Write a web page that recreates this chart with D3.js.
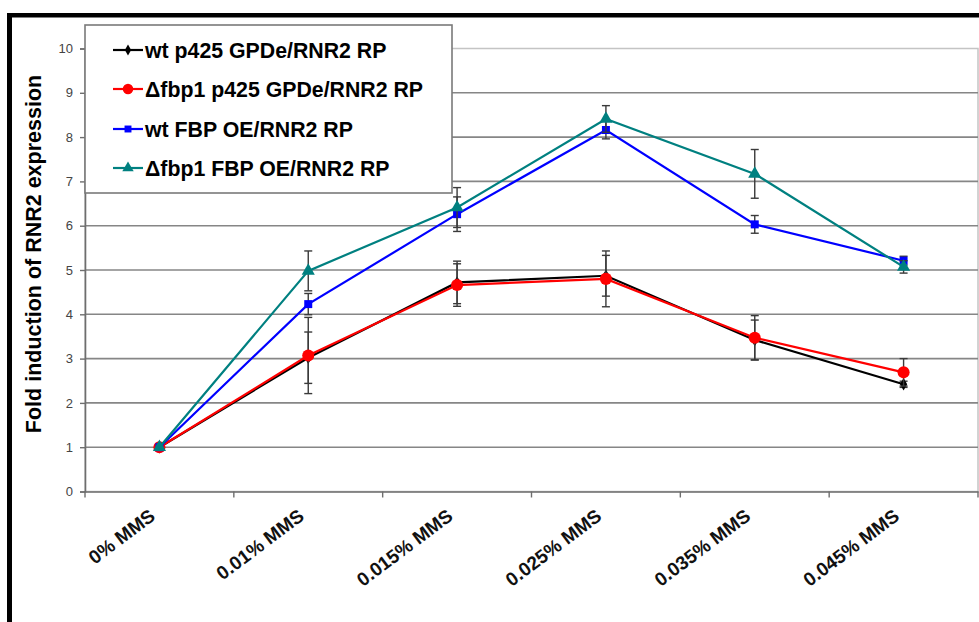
<!DOCTYPE html>
<html>
<head>
<meta charset="utf-8">
<script src="https://cdn.jsdelivr.net/npm/d3@7"></script>
<style>
  html, body { margin: 0; padding: 0; background: #fff; }
  svg { display: block; font-family: "Liberation Sans", Arial, sans-serif; }
</style>
</head>
<body>
<svg id="chart" width="979" height="622"></svg>
<script>
// MMS dose categories
const categories = ["0% MMS", "0.01% MMS", "0.015% MMS", "0.025% MMS", "0.035% MMS", "0.045% MMS"];
const yTicks = [0, 1, 2, 3, 4, 5, 6, 7, 8, 9, 10];

// Fold induction per strain, with error
const seriesNames = [
  "wt p425 GPDe/RNR2 RP",
  "\u0394fbp1 p425 GPDe/RNR2 RP",
  "wt FBP OE/RNR2 RP",
  "\u0394fbp1 FBP OE/RNR2 RP"
];
const wtP425 = [1, 3.02, 4.72, 4.87, 3.42, 2.42];
const wtP425Err = [0, 0.58, 0.48, 0.46, 0.45, 0.07];
const fbpP425 = [1, 3.07, 4.66, 4.80, 3.47, 2.69];
const fbpP425Err = [0, 0.86, 0.48, 0.63, 0.50, 0.31];
const wtFbpOE = [1, 4.23, 6.26, 8.16, 6.03, 5.21];
const wtFbpOEErr = [0, 0.24, 0.39, 0.20, 0.20, 0.10];
const fbpFbpOE = [1, 4.98, 6.41, 8.41, 7.17, 5.07];
const fbpFbpOEErr = [0, 0.45, 0.45, 0.30, 0.55, 0.14];

const seriesColors = ["#000000", "#ff0000", "#0000ff", "#008080"];
const seriesSymbols = [d3.symbolDiamond, d3.symbolCircle, d3.symbolSquare, d3.symbolTriangle];
const symbolSizes = [45, 115, 64, 75];

const series = seriesNames.map((name, i) => ({
  name,
  values: [wtP425, fbpP425, wtFbpOE, fbpFbpOE][i],
  errors: [wtP425Err, fbpP425Err, wtFbpOEErr, fbpFbpOEErr][i],
  color: seriesColors[i],
  symbol: seriesSymbols[i],
  size: symbolSizes[i]
}));

const svg = d3.select("#chart");
svg.append("rect").attr("width", 979).attr("height", 622).attr("fill", "#fff");

const plot = { left: 85, right: 978, top: 48.5, bottom: 491.5 };

const x = d3.scaleBand().domain(categories).range([plot.left, plot.right]);
const y = d3.scaleLinear().domain([0, 10]).range([plot.bottom, plot.top]);

// plot frame
svg.append("rect")
  .attr("x", plot.left).attr("y", plot.top)
  .attr("width", plot.right - plot.left).attr("height", plot.bottom - plot.top)
  .attr("fill", "none").attr("stroke", "#c4c4c4").attr("stroke-width", 1.5);

// horizontal gridlines
svg.append("g").selectAll("line")
  .data(yTicks.filter(t => t > 0 && t < 10))
  .join("line")
  .attr("x1", plot.left).attr("x2", plot.right)
  .attr("y1", d => y(d)).attr("y2", d => y(d))
  .attr("stroke", "#868686").attr("stroke-width", 1.6);

// y axis
const yAxis = svg.append("g")
  .attr("transform", `translate(${plot.left},0)`)
  .call(d3.axisLeft(y).tickValues(yTicks).tickSize(5).tickPadding(7).tickFormat(d3.format("d")));
yAxis.select(".domain").attr("stroke", "#6e6e6e").attr("stroke-width", 1.6);
yAxis.selectAll(".tick line").attr("stroke", "#6e6e6e").attr("stroke-width", 1.4);
yAxis.selectAll(".tick text")
  .attr("fill", "#444").attr("font-size", 13)
  .attr("font-family", "'Liberation Sans', Arial, sans-serif");

// x axis: line with ticks at category boundaries
const xAxis = svg.append("g").attr("transform", `translate(0,${plot.bottom})`);
xAxis.call(d3.axisBottom(x).tickSize(0).tickFormat(""));
xAxis.select(".domain").attr("stroke", "#6e6e6e").attr("stroke-width", 1.6);
const bounds = categories.map(c => x(c)).concat([x(categories[categories.length - 1]) + x.bandwidth()]);
xAxis.selectAll("line.bound")
  .data(bounds)
  .join("line").attr("class", "bound")
  .attr("x1", d => d).attr("x2", d => d)
  .attr("y1", 0).attr("y2", 6)
  .attr("stroke", "#6e6e6e").attr("stroke-width", 1.4);

// rotated category labels
svg.append("g").selectAll("text")
  .data(categories)
  .join("text")
  .attr("transform", d => `translate(${x(d) + x.bandwidth() / 2 - 3},${plot.bottom + 27}) rotate(-37)`)
  .attr("text-anchor", "end")
  .attr("font-size", 19)
  .attr("font-weight", "bold")
  .attr("fill", "#111")
  .text(d => d);

// y axis title
svg.append("text")
  .attr("transform", `translate(41,254) rotate(-90)`)
  .attr("text-anchor", "middle")
  .attr("font-size", 21.5)
  .attr("font-weight", "bold")
  .attr("fill", "#000")
  .text("Fold induction of RNR2 expression");

const cx = d => x(d) + x.bandwidth() / 2;
const line = d3.line().x(d => cx(d.cat)).y(d => y(d.v));

// series: lines, error bars, markers
series.forEach(s => {
  const pts = categories.map((c, i) => ({ cat: c, v: s.values[i], e: s.errors[i] }));
  const g = svg.append("g");
  g.append("path").datum(pts)
    .attr("d", line).attr("fill", "none")
    .attr("stroke", s.color).attr("stroke-width", 2.2);
  const eb = g.append("g").selectAll("g").data(pts.filter(p => p.e > 0)).join("g")
    .attr("stroke", "#3a3a3a").attr("stroke-width", 1.4);
  eb.append("line")
    .attr("x1", p => cx(p.cat)).attr("x2", p => cx(p.cat))
    .attr("y1", p => y(p.v - p.e)).attr("y2", p => y(p.v + p.e));
  eb.append("line")
    .attr("x1", p => cx(p.cat) - 4).attr("x2", p => cx(p.cat) + 4)
    .attr("y1", p => y(p.v + p.e)).attr("y2", p => y(p.v + p.e));
  eb.append("line")
    .attr("x1", p => cx(p.cat) - 4).attr("x2", p => cx(p.cat) + 4)
    .attr("y1", p => y(p.v - p.e)).attr("y2", p => y(p.v - p.e));
  g.append("g").selectAll("path").data(pts).join("path")
    .attr("transform", p => `translate(${cx(p.cat)},${y(p.v)})`)
    .attr("d", d3.symbol().type(s.symbol).size(s.size))
    .attr("fill", s.color);
});

// legend
const legend = svg.append("g");
legend.append("rect")
  .attr("x", 85).attr("y", 25).attr("width", 367).attr("height", 168)
  .attr("fill", "#fff").attr("stroke", "#7a7a7a").attr("stroke-width", 1.6);
const rowY = [50, 89, 129, 168];
series.forEach((s, i) => {
  const ly = rowY[i];
  legend.append("line")
    .attr("x1", 113).attr("x2", 143).attr("y1", ly).attr("y2", ly)
    .attr("stroke", s.color).attr("stroke-width", 2.2);
  legend.append("path")
    .attr("transform", `translate(128,${ly})`)
    .attr("d", d3.symbol().type(s.symbol).size(s.size * 0.75))
    .attr("fill", s.color);
  legend.append("text")
    .attr("x", 145).attr("y", ly + 7.5)
    .attr("font-size", 21.3).attr("font-weight", "bold").attr("fill", "#000")
    .text(s.name);
});

// black frame along the top and left
svg.append("rect").attr("x", 7).attr("y", 13).attr("width", 972).attr("height", 4.5).attr("fill", "#000");
svg.append("rect").attr("x", 7).attr("y", 13).attr("width", 5).attr("height", 609).attr("fill", "#000");
</script>
</body>
</html>
